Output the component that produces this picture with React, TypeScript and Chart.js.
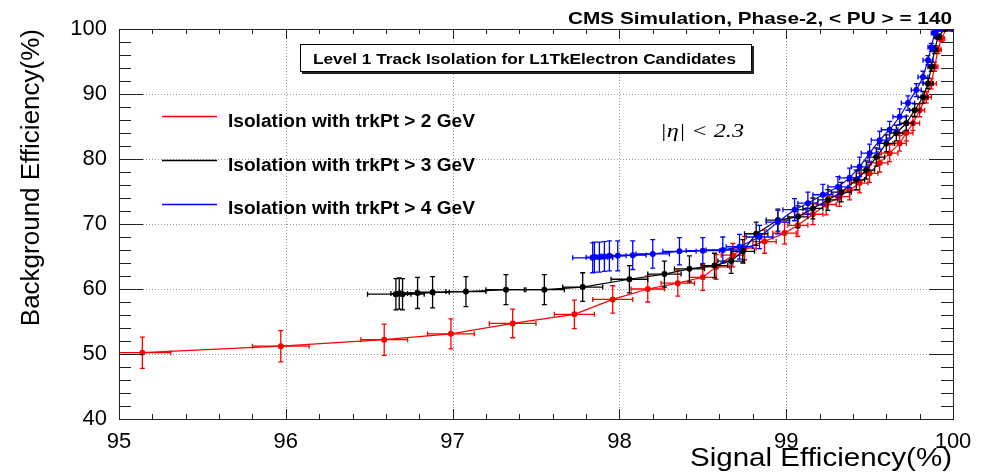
import React, { useEffect, useRef } from "react";
import { Chart, registerables } from "chart.js";

Chart.register(...registerables);

// ---- Data ----
const redX = [95.14, 95.97, 96.59, 96.99, 97.36, 97.73, 97.96, 98.17, 98.35, 98.5, 98.58, 98.68, 98.75, 98.87, 98.99, 99.07, 99.16, 99.24, 99.32, 99.38, 99.44, 99.5, 99.56, 99.62, 99.68, 99.72, 99.76, 99.8, 99.84, 99.87, 99.89, 99.91, 99.93, 99.96, 100];
const redY = [50.2, 51.2, 52.2, 53.1, 54.7, 56.1, 58.4, 60.0, 60.9, 61.8, 63.4, 65.2, 66.3, 67.3, 68.6, 69.8, 71.5, 73.0, 74.2, 75.2, 76.3, 77.8, 79.4, 80.9, 82.4, 84.0, 85.5, 87.5, 89.5, 91.6, 94.2, 96.8, 98.5, 100, 100];
const redXErr = [0.17, 0.17, 0.14, 0.14, 0.14, 0.12, 0.12, 0.1, 0.1, 0.08, 0.08, 0.07, 0.07, 0.07, 0.07, 0.06, 0.06, 0.06, 0.06, 0.06, 0.05, 0.05, 0.05, 0.05, 0.04, 0.04, 0.04, 0.03, 0.03, 0.03, 0.02, 0.02, 0.02, 0.02, 0.02];
const redYErr = [2.4, 2.4, 2.4, 2.3, 2.2, 2.2, 2.1, 2.0, 2.0, 2.0, 1.9, 1.8, 1.8, 1.8, 1.7, 1.7, 1.6, 1.6, 1.5, 1.5, 1.5, 1.4, 1.4, 1.3, 1.2, 1.2, 1.1, 1.0, 0.9, 0.8, 0.7, 0.6, 0.4, 0.2, 0.1];

const blackX = [96.66, 96.68, 96.7, 96.79, 96.88, 97.08, 97.32, 97.55, 97.78, 98.06, 98.27, 98.42, 98.57, 98.67, 98.74, 98.82, 98.95, 99.07, 99.16, 99.25, 99.33, 99.42, 99.48, 99.54, 99.6, 99.66, 99.72, 99.77, 99.82, 99.85, 99.87, 99.89, 99.91, 99.95, 100];
const blackY = [59.2, 59.3, 59.2, 59.4, 59.5, 59.6, 59.9, 59.9, 60.3, 61.5, 62.3, 63.1, 63.6, 64.3, 65.8, 68.5, 70.6, 71.1, 72.4, 73.7, 74.9, 76.8, 78.3, 80.3, 82.4, 84.0, 85.5, 87.5, 89.5, 91.6, 94.2, 96.8, 98.8, 100, 100];
const blackXErr = [0.17, 0.05, 0.05, 0.1, 0.1, 0.12, 0.12, 0.12, 0.12, 0.11, 0.1, 0.09, 0.08, 0.08, 0.07, 0.07, 0.07, 0.06, 0.06, 0.06, 0.06, 0.05, 0.05, 0.05, 0.05, 0.04, 0.04, 0.03, 0.03, 0.03, 0.02, 0.02, 0.02, 0.02, 0.02];
const blackYErr = [2.4, 2.4, 2.4, 2.4, 2.4, 2.3, 2.3, 2.3, 2.2, 2.1, 2.0, 2.0, 1.9, 1.9, 1.8, 1.8, 1.7, 1.7, 1.6, 1.6, 1.5, 1.5, 1.4, 1.4, 1.3, 1.2, 1.1, 1.0, 0.9, 0.8, 0.7, 0.6, 0.4, 0.2, 0.1];

const blueX = [97.84, 97.85, 97.88, 97.91, 97.94, 97.99, 98.08, 98.2, 98.36, 98.5, 98.62, 98.72, 98.84, 98.95, 99.05, 99.13, 99.22, 99.31, 99.38, 99.44, 99.5, 99.56, 99.62, 99.68, 99.73, 99.78, 99.82, 99.85, 99.87, 99.89, 99.92, 100];
const blueY = [64.8, 64.9, 64.9, 65.0, 65.1, 65.1, 65.2, 65.4, 65.8, 65.9, 66.0, 66.5, 68.0, 70.3, 72.2, 73.2, 74.5, 75.7, 77.1, 78.8, 80.9, 82.9, 84.5, 86.5, 88.6, 90.6, 92.6, 95.2, 97.2, 99.4, 100, 100];
const blueXErr = [0.12, 0.05, 0.05, 0.05, 0.05, 0.05, 0.08, 0.1, 0.1, 0.1, 0.1, 0.08, 0.08, 0.07, 0.07, 0.06, 0.06, 0.06, 0.06, 0.05, 0.05, 0.05, 0.05, 0.04, 0.04, 0.03, 0.03, 0.03, 0.02, 0.02, 0.02, 0.02];
const blueYErr = [2.3, 2.3, 2.3, 2.3, 2.3, 2.3, 2.2, 2.2, 2.1, 2.0, 2.0, 1.9, 1.8, 1.8, 1.7, 1.7, 1.6, 1.6, 1.5, 1.5, 1.4, 1.4, 1.3, 1.2, 1.1, 1.0, 0.9, 0.7, 0.6, 0.3, 0.1, 0.1];

const seriesLabels = [
  "Isolation with trkPt > 2 GeV",
  "Isolation with trkPt > 3 GeV",
  "Isolation with trkPt > 4 GeV",
];
const seriesColors = ["#ff0000", "#000000", "#0000ff"];

const xMajor = [95, 96, 97, 98, 99, 100];
const yMajor = [40, 50, 60, 70, 80, 90, 100];

const headerText = "CMS Simulation, Phase-2, < PU > = 140";
const boxTitle = "Level 1 Track Isolation for L1TkElectron Candidates";
const etaText = "|η| < 2.3";
const xTitle = "Signal Efficiency(%)";
const yTitle = "Background Efficiency(%)";

const SANS = "'Liberation Sans', Arial, Helvetica, sans-serif";
const SERIF = "'Liberation Serif', 'Times New Roman', serif";

function fitText(ctx: CanvasRenderingContext2D, text: string, left: number, baseline: number, width: number, font: string) {
  ctx.save();
  ctx.font = font;
  ctx.textAlign = "left";
  ctx.textBaseline = "alphabetic";
  const w = ctx.measureText(text).width;
  ctx.translate(left, baseline);
  ctx.scale(width / w, 1);
  ctx.fillText(text, 0, 0);
  ctx.restore();
}

const errorBars = {
  id: "errorBars",
  afterDatasetDraw(chart: any, args: any) {
    const ds = chart.data.datasets[args.index];
    const { ctx, chartArea: a, scales } = chart;
    const xs = scales.x;
    const ys = scales.y;
    ctx.save();
    ctx.beginPath();
    ctx.rect(a.left, a.top, a.right - a.left, a.bottom - a.top);
    ctx.clip();
    ctx.strokeStyle = ds.borderColor;
    ctx.lineWidth = 1.3;
    const cap = 2.5;
    ds.data.forEach((p: any, i: number) => {
      const ex = ds.xErr[i];
      const ey = ds.yErr[i];
      const px = xs.getPixelForValue(p.x);
      const py = ys.getPixelForValue(p.y);
      const x1 = xs.getPixelForValue(p.x - ex);
      const x2 = xs.getPixelForValue(p.x + ex);
      const y1 = ys.getPixelForValue(p.y - ey);
      const y2 = ys.getPixelForValue(p.y + ey);
      ctx.beginPath();
      ctx.moveTo(px, y1); ctx.lineTo(px, y2);
      ctx.moveTo(px - cap, y1); ctx.lineTo(px + cap, y1);
      ctx.moveTo(px - cap, y2); ctx.lineTo(px + cap, y2);
      ctx.moveTo(x1, py); ctx.lineTo(x2, py);
      ctx.moveTo(x1, py - cap); ctx.lineTo(x1, py + cap);
      ctx.moveTo(x2, py - cap); ctx.lineTo(x2, py + cap);
      ctx.stroke();
    });
    ctx.restore();
  },
};

const rootFrame = {
  id: "rootFrame",
  beforeDatasetsDraw(chart: any) {
    const { ctx, chartArea: a, scales } = chart;
    ctx.save();
    ctx.strokeStyle = "#9a9a9a";
    ctx.lineWidth = 1;
    ctx.setLineDash([1, 2]);
    xMajor.slice(1, -1).forEach((v) => {
      const px = Math.round(scales.x.getPixelForValue(v)) + 0.5;
      ctx.beginPath(); ctx.moveTo(px, a.top); ctx.lineTo(px, a.bottom); ctx.stroke();
    });
    yMajor.slice(1, -1).forEach((v) => {
      const py = Math.round(scales.y.getPixelForValue(v)) + 0.5;
      ctx.beginPath(); ctx.moveTo(a.left, py); ctx.lineTo(a.right, py); ctx.stroke();
    });
    ctx.restore();
  },
  afterDatasetsDraw(chart: any) {
    const { ctx, chartArea: a, scales } = chart;
    ctx.save();
    ctx.strokeStyle = "#222";
    ctx.lineWidth = 1;
    ctx.setLineDash([]);
    ctx.strokeRect(Math.round(a.left) + 0.5, Math.round(a.top) + 0.5, Math.round(a.right - a.left), Math.round(a.bottom - a.top));
    for (let k = 0; k <= 25; k++) {
      const v = 95 + k * 0.2;
      const major = k % 5 === 0;
      const len = major ? 10 : 5;
      const px = Math.round(scales.x.getPixelForValue(v)) + 0.5;
      ctx.beginPath();
      ctx.moveTo(px, a.bottom); ctx.lineTo(px, a.bottom - len);
      ctx.moveTo(px, a.top); ctx.lineTo(px, a.top + len);
      ctx.stroke();
    }
    for (let k = 0; k <= 30; k++) {
      const v = 40 + k * 2;
      const major = k % 5 === 0;
      const len = major ? 24 : 12;
      const py = Math.round(scales.y.getPixelForValue(v)) + 0.5;
      ctx.beginPath();
      ctx.moveTo(a.left, py); ctx.lineTo(a.left + len, py);
      ctx.moveTo(a.right, py); ctx.lineTo(a.right - len, py);
      ctx.stroke();
    }
    ctx.restore();
  },
  afterDraw(chart: any) {
    const { ctx } = chart;
    ctx.save();
    ctx.fillStyle = "#000";
    fitText(ctx, headerText, 568, 24, 384, `bold 17px ${SANS}`);
    ctx.fillStyle = "#222";
    ctx.fillRect(302, 46, 452, 28);
    ctx.fillStyle = "#fff";
    ctx.fillRect(300, 44, 451, 27);
    ctx.strokeStyle = "#000";
    ctx.lineWidth = 1;
    ctx.strokeRect(300.5, 44.5, 451, 27);
    ctx.fillStyle = "#000";
    fitText(ctx, boxTitle, 313, 64, 423, `bold 15px ${SANS}`);
    const ly = [116, 160, 204];
    const tb = [127, 171, 214];
    seriesLabels.forEach((lab, i) => {
      ctx.strokeStyle = seriesColors[i];
      ctx.lineWidth = 1.3;
      ctx.beginPath(); ctx.moveTo(162, ly[i] + 0.5); ctx.lineTo(217, ly[i] + 0.5); ctx.stroke();
      ctx.fillStyle = "#000";
      fitText(ctx, lab, 228, tb[i], 247, `bold 18px ${SANS}`);
    });
    fitText(ctx, etaText, 660, 137, 84, `italic 19px ${SERIF}`);
    fitText(ctx, xTitle, 690, 466, 262, `26px ${SANS}`);
    ctx.save();
    ctx.translate(39, 29);
    ctx.rotate(-Math.PI / 2);
    ctx.font = `26px ${SANS}`;
    ctx.textAlign = "right";
    ctx.textBaseline = "alphabetic";
    ctx.fillStyle = "#000";
    ctx.fillText(yTitle, 0, 0);
    ctx.restore();
    ctx.restore();
  },
};

function makeDataset(label: string, color: string, xs: number[], ys: number[], xe: number[], ye: number[], order: number) {
  return {
    label,
    data: xs.map((x, i) => ({ x, y: ys[i] })),
    xErr: xe,
    yErr: ye,
    showLine: true,
    borderColor: color,
    backgroundColor: color,
    borderWidth: 1.2,
    pointRadius: 3,
    pointBorderWidth: 0,
    pointBackgroundColor: color,
    order,
  } as any;
}

export default function App() {
  const ref = useRef<HTMLCanvasElement | null>(null);
  useEffect(() => {
    if (!ref.current) return;
    const chart = new Chart(ref.current, {
      type: "scatter",
      data: {
        datasets: [
          makeDataset(seriesLabels[0], seriesColors[0], redX, redY, redXErr, redYErr, 3),
          makeDataset(seriesLabels[1], seriesColors[1], blackX, blackY, blackXErr, blackYErr, 2),
          makeDataset(seriesLabels[2], seriesColors[2], blueX, blueY, blueXErr, blueYErr, 1),
        ],
      },
      options: {
        animation: false,
        responsive: false,
        devicePixelRatio: 1,
        layout: { padding: { top: 29, right: 29, left: 0, bottom: 0 } },
        plugins: { legend: { display: false }, tooltip: { enabled: false }, title: { display: false } },
        scales: {
          x: {
            type: "linear",
            min: 95,
            max: 100,
            afterBuildTicks: (s: any) => { s.ticks = xMajor.map((v) => ({ value: v })); },
            afterFit: (s: any) => { s.height = 53; },
            ticks: { font: { family: SANS, size: 22 }, color: "#000", padding: 2, maxRotation: 0, autoSkip: false },
            grid: { display: false },
            border: { display: false },
          },
          y: {
            type: "linear",
            min: 40,
            max: 100,
            afterBuildTicks: (s: any) => { s.ticks = yMajor.map((v) => ({ value: v })); },
            afterFit: (s: any) => { s.width = 119; },
            ticks: { font: { family: SANS, size: 22 }, color: "#000", padding: 4 },
            grid: { display: false },
            border: { display: false },
          },
        },
      },
      plugins: [rootFrame, errorBars],
    });
    return () => chart.destroy();
  }, []);
  return (
    <div style={{ position: "fixed", left: 0, top: 0, width: 982, height: 472, background: "#fff" }}>
      <canvas ref={ref} width={982} height={472} style={{ width: 982, height: 472, display: "block" }} />
    </div>
  );
}
